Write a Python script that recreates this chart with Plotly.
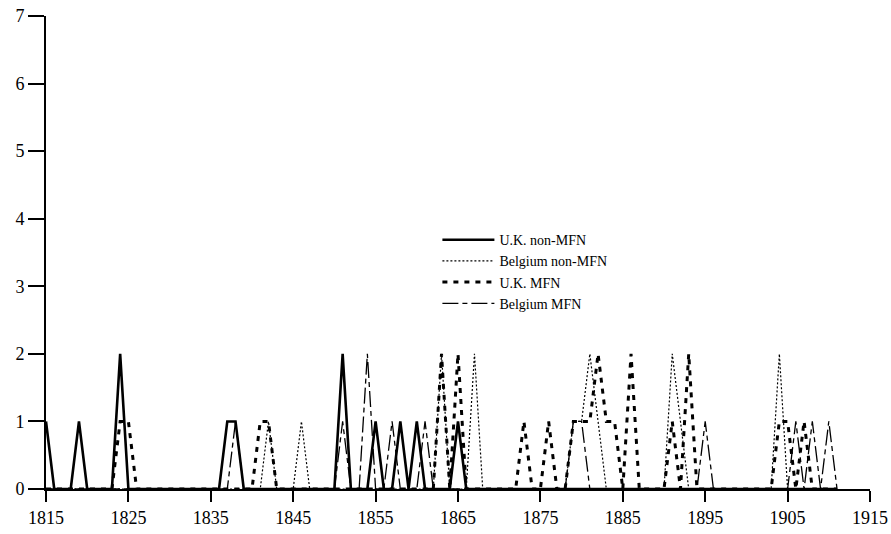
import plotly.graph_objects as go

years = list(range(1815, 1912))

# values by decade: 1815-24, 1825-34, ..., 1895-1904, 1905-11
uk_non_mfn = ([1, 0, 0, 0, 1, 0, 0, 0, 0, 2] + [0, 0, 0, 0, 0, 0, 0, 0, 0, 0] +
              [0, 0, 1, 1, 0, 0, 0, 0, 0, 0] + [0, 0, 0, 0, 0, 0, 2, 0, 0, 0] +
              [1, 0, 0, 1, 0, 1, 0, 0, 0, 0] + [1, 0, 0, 0, 0, 0, 0, 0, 0, 0] +
              [0, 0, 0, 0, 0, 0, 0, 0, 0, 0] + [0, 0, 0, 0, 0, 0, 0, 0, 0, 0] +
              [0, 0, 0, 0, 0, 0, 0, 0, 0, 0] + [0, 0, 0, 0, 0, 0, 0])
be_non_mfn = ([0, 0, 0, 0, 0, 0, 0, 0, 0, 0] + [0, 0, 0, 0, 0, 0, 0, 0, 0, 0] +
              [0, 0, 0, 0, 0, 0, 0, 1, 0, 0] + [0, 1, 0, 0, 0, 0, 0, 0, 0, 0] +
              [0, 0, 0, 0, 0, 0, 0, 0, 2, 0] + [0, 0, 2, 0, 0, 0, 0, 0, 0, 0] +
              [0, 0, 0, 0, 1, 1, 2, 1, 0, 0] + [0, 0, 0, 0, 0, 0, 2, 1, 0, 0] +
              [0, 0, 0, 0, 0, 0, 0, 0, 0, 2] + [0, 0, 0, 0, 0, 0, 0])
uk_mfn = ([0, 0, 0, 0, 0, 0, 0, 0, 0, 1] + [1, 0, 0, 0, 0, 0, 0, 0, 0, 0] +
          [0, 0, 0, 0, 0, 0, 1, 1, 0, 0] + [0, 0, 0, 0, 0, 0, 0, 0, 0, 0] +
          [0, 0, 0, 0, 0, 0, 0, 0, 2, 0] + [2, 0, 0, 0, 0, 0, 0, 0, 1, 0] +
          [0, 1, 0, 0, 1, 1, 1, 2, 1, 1] + [0, 2, 0, 0, 0, 0, 1, 0, 2, 0] +
          [0, 0, 0, 0, 0, 0, 0, 0, 0, 1] + [1, 0, 1, 0, 0, 0, 0])
be_mfn = ([0, 0, 0, 0, 0, 0, 0, 0, 0, 0] + [0, 0, 0, 0, 0, 0, 0, 0, 0, 0] +
          [0, 0, 0, 1, 0, 0, 0, 0, 0, 0] + [0, 0, 0, 0, 0, 0, 1, 0, 0, 2] +
          [0, 0, 1, 0, 0, 0, 1, 0, 0, 0] + [0, 0, 0, 0, 0, 0, 0, 0, 0, 0] +
          [0, 0, 0, 0, 1, 1, 0, 0, 0, 0] + [0, 0, 0, 0, 0, 0, 0, 0, 0, 0] +
          [1, 0, 0, 0, 0, 0, 0, 0, 0, 0] + [0, 1, 0, 1, 0, 1, 0])

x_ticks = list(range(1815, 1916, 10))
y_ticks = list(range(0, 8))

series = [
    ("U.K. non-MFN", uk_non_mfn, dict(color="black", width=2.6, dash="solid")),
    ("Belgium non-MFN", be_non_mfn, dict(color="black", width=1.2, dash="2px,2px")),
    ("U.K. MFN", uk_mfn, dict(color="black", width=3, dash="5px,6px")),
    ("Belgium MFN", be_mfn, dict(color="black", width=1.3, dash="16px,4px,5px,4px")),
]

fig = go.Figure()
for name, vals, line in series:
    fig.add_trace(go.Scatter(x=years, y=vals, mode="lines", name=name, line=line))

font_family = "Liberation Serif"
fig.update_layout(
    width=891, height=534,
    margin=dict(l=46, r=21, t=16, b=45),
    plot_bgcolor="white", paper_bgcolor="white",
    font=dict(family=font_family, size=18, color="black"),
    showlegend=True,
    legend=dict(x=0.475, y=0.56, xanchor="left", yanchor="top",
                font=dict(family=font_family, size=14, color="black"),
                bgcolor="rgba(0,0,0,0)", tracegroupgap=0, itemwidth=52),
    xaxis=dict(range=[1815, 1915], tickvals=x_ticks, ticks="outside", ticklen=11,
               tickwidth=2, tickcolor="black", showline=True, linewidth=2,
               linecolor="black", showgrid=False, zeroline=False, automargin=False,
               tickfont=dict(family=font_family, size=18, color="black")),
    yaxis=dict(range=[0, 7], tickvals=y_ticks, ticks="outside", ticklen=16,
               tickwidth=2, tickcolor="black", showline=True, linewidth=2,
               linecolor="black", showgrid=False, zeroline=False, automargin=False,
               tickfont=dict(family=font_family, size=18, color="black")),
)

fig.write_html("out.html", config={"displayModeBar": False},
               post_script="document.body.style.margin='0';")
